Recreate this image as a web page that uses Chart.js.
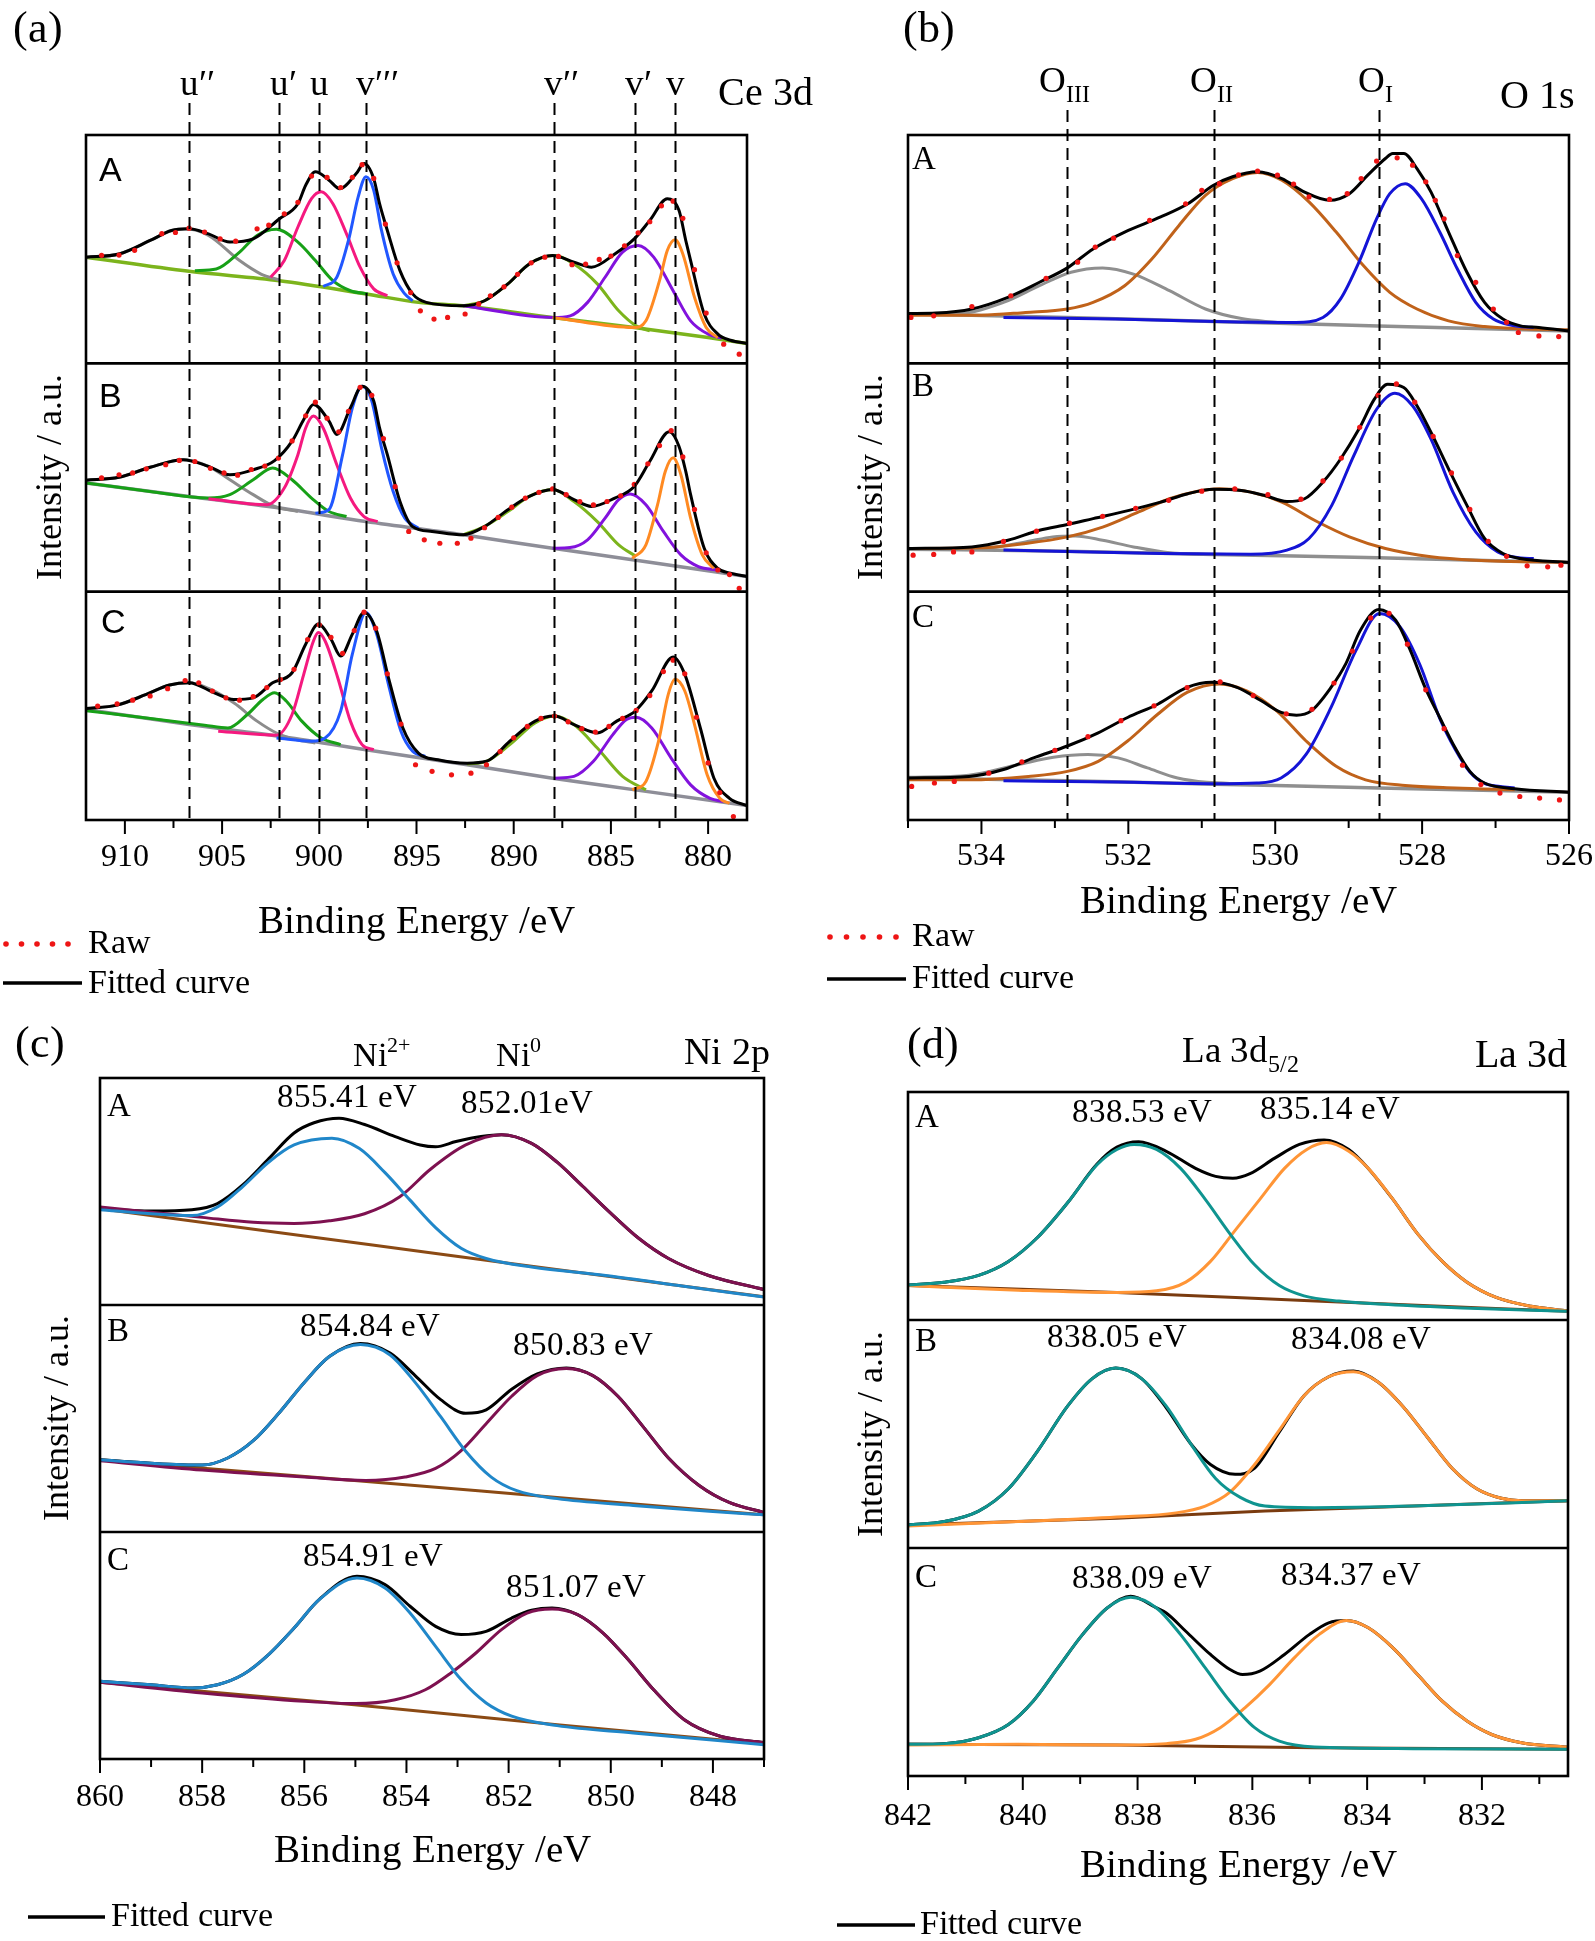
<!DOCTYPE html>
<html>
<head>
<meta charset="utf-8">
<script src="https://cdn.jsdelivr.net/npm/chart.js@4.4.1/dist/chart.umd.min.js"></script>
<style>
@font-face { font-family: "TimesLike"; src: local("Liberation Serif"), local("LiberationSerif"), local("Liberation Serif Regular"); }
@font-face { font-family: "ArialLike"; src: local("Liberation Sans"), local("LiberationSans"), local("Liberation Sans Regular"); }
html, body { margin: 0; padding: 0; background: #fff; }
body { width: 1595px; height: 1941px; position: relative; overflow: hidden; font-family: "TimesLike", "Liberation Serif", serif; }
canvas { position: absolute; }
.pre { position: absolute; left: -999px; top: 0; }
</style>
</head>
<body>
<span class="pre" style="font-family:TimesLike">Aa</span>
<span class="pre" style="font-family:ArialLike">Aa</span>
<canvas id="pa" width="820" height="1000" style="left:0px;top:0px"></canvas>
<canvas id="pb" width="775" height="1000" style="left:820px;top:0px"></canvas>
<canvas id="pc" width="820" height="941" style="left:0px;top:1000px"></canvas>
<canvas id="pd" width="775" height="941" style="left:820px;top:1000px"></canvas>
<script>
// ---------- tick labels / marker positions (eV) ----------
const ceTicks = [910, 905, 900, 895, 890, 885, 880];
const oTicks = [534, 532, 530, 528, 526];
const niTicks = [860, 858, 856, 854, 852, 850, 848];
const laTicks = [842, 840, 838, 836, 834, 832];

const ceLines = [906.7, 902.05, 900.0, 897.6, 887.95, 883.77, 881.7];
const ceLineLabels = ["u\u2032\u2032", "u\u2032", "u", "v\u2032\u2032\u2032", "v\u2032\u2032", "v\u2032", "v"];
const oLines = [532.83, 530.83, 528.59];
const oLineLabels = [["O", "III"], ["O", "II"], ["O", "I"]];

const niNotes = ["855.41 eV", "852.01eV", "854.84 eV", "850.83 eV", "854.91 eV", "851.07 eV"];
const laNotes = ["838.53 eV", "835.14 eV", "838.05 eV", "834.08 eV", "838.09 eV", "834.37 eV"];

// ---------- (a) Ce 3d : [binding energy, intensity in sub-panel %] ----------
const ceA_fit = [[912,46.5],[910.3,47.9],[908.7,53.8],[907.6,58.2],[906.7,58.9],[905.7,56.7],[904.6,53.1],[903.4,54.5],[902.05,63.3],[901.1,69.9],[900.7,78.0],[900.2,83.9],[899.5,80.2],[898.95,76.5],[898.1,83.1],[897.7,87.5],[897.2,80.9],[896.9,69.9],[896.5,58.2],[895.85,40.6],[895.2,30.4],[894.5,26.7],[892.6,25.2],[891.5,27.4],[890.3,34.8],[889.2,43.5],[888.0,47.2],[886.9,44.3],[886.0,42.1],[884.8,47.9],[883.8,54.5],[883.0,62.6],[882.1,72.1],[881.5,67.0],[881.15,53.8],[880.9,45.0],[880.2,21.6],[879.5,12.8],[878.85,10.1],[878,8.7]];
const ceA_raw = [[911.2,47.3],[910.3,47.4],[909.5,49.5],[908.1,56.8],[907.4,57.3],[906.7,59.2],[905.9,57.5],[905.1,54.5],[904.3,53.5],[903.2,58.9],[902.6,60.5],[901.8,65.5],[901.1,70.5],[900.4,82.0],[899.6,81.4],[898.9,77.0],[898.3,81.5],[897.8,87.0],[897.2,81.0],[896.6,61.0],[896.0,44.0],[895.3,31.0],[894.8,23.0],[894.1,19.4],[893.4,20.1],[892.5,21.6],[891.8,26.0],[891.2,29.6],[890.5,33.5],[889.8,39.0],[889.1,44.0],[888.4,46.5],[887.7,46.8],[887.0,43.2],[886.3,43.5],[885.6,45.5],[885.0,47.0],[884.3,51.5],[883.6,57.2],[883.0,62.0],[882.4,69.0],[881.8,71.0],[881.3,63.5],[880.7,41.0],[880.1,22.0],[879.2,8.4],[878.4,4.0]];
const ceA_base = [[912,46.5],[906.7,40.3],[902.05,36.2],[897.6,30.4],[894.9,26.7],[892.6,25.2],[888,20.1],[883.8,15.7],[880,11.3],[878,8.7]];
const ceA_u2 = [[912,46.5],[910.3,47.9],[908.7,53.8],[907.6,58.2],[906.9,58.9],[905.7,56.0],[904.1,45.0],[903.0,39.1],[902.05,36.5]];
const ceA_u1 = [[906.4,40.6],[905.3,41.3],[904.1,48.7],[903.2,56.0],[902.2,58.7],[901.1,53.1],[900.2,45.0],[899.3,36.2],[898.4,31.8],[897.5,30.4]];
const ceA_u = [[902.5,37.7],[901.8,45.0],[901.1,59.7],[900.4,72.1],[899.9,75.1],[899.3,69.9],[898.6,56.7],[897.9,42.1],[897.2,32.6],[896.5,29.6]];
const ceA_v3 = [[899.8,33.7],[899.1,37.7],[898.5,53.8],[898.0,72.9],[897.6,81.7],[897.2,75.8],[896.8,58.2],[896.2,39.1],[895.6,30.4],[895.2,27.4]];
const ceA_v2 = [[892.6,25.2],[891.5,27.4],[890.3,34.8],[889.2,43.5],[887.9,47.2],[886.9,43.5],[885.7,34.8],[884.6,23.0],[883.7,16.4],[883.0,14.2]];
const ceA_v1 = [[892.6,25.2],[888.0,20.1],[887.1,20.8],[886.2,26.7],[885.3,37.7],[884.4,48.7],[883.6,51.6],[882.8,46.5],[881.8,31.8],[880.9,18.6],[880.0,12.8],[879.3,11.0]];
const ceA_v = [[888.0,20.1],[883.8,15.7],[883.2,18.6],[882.5,36.2],[882.1,49.4],[881.7,54.1],[881.3,47.9],[880.7,28.9],[880.1,15.7],[879.5,11.3]];

const ceB_fit = [[912,48.8],[910.3,50.1],[908.7,54.5],[907.0,57.8],[905.7,54.9],[904.6,51.2],[903.4,53.4],[902.3,57.4],[901.4,65.9],[900.8,75.4],[900.3,82.0],[899.5,74.7],[899.1,68.8],[898.4,80.5],[897.8,90.0],[897.2,83.5],[896.9,71.7],[896.5,60.0],[895.85,39.5],[895.2,28.5],[894.2,26.4],[892.6,24.9],[891.5,28.5],[890.3,35.9],[889.2,41.7],[888.0,44.7],[886.9,40.3],[886.0,37.3],[884.8,41.0],[883.8,46.1],[883.0,57.1],[882.0,70.0],[881.5,63.7],[881.15,52.7],[880.9,42.5],[880.2,19.0],[879.5,10.2],[878.85,8.1],[878,6.6]];
const ceB_raw = [[911.2,49.8],[910.3,51.2],[909.6,52.0],[908.9,53.8],[907.9,55.6],[907.2,57.5],[906.4,57.0],[905.6,54.0],[904.9,52.0],[904.2,51.0],[903.5,53.5],[902.8,55.0],[902.1,58.5],[901.4,66.0],[900.7,77.0],[900.2,83.0],[899.6,76.0],[899.0,70.0],[898.5,79.0],[897.9,89.5],[897.3,86.0],[896.7,67.0],[896.1,46.0],[895.4,26.4],[894.6,22.7],[893.8,21.2],[892.9,21.2],[892.2,23.4],[891.5,28.0],[890.8,32.5],[890.1,37.0],[889.4,41.0],[888.7,43.5],[888.0,45.0],[887.3,42.5],[886.6,39.5],[885.9,38.0],[885.2,39.5],[884.5,42.0],[883.8,47.0],[883.1,56.0],[882.5,64.0],[881.9,70.5],[881.3,59.0],[880.7,36.0],[880.1,17.0],[879.5,9.5],[878.9,7.5],[878.4,1.5]];
const ceB_base = [[912,47.6],[906.7,41.7],[902.05,36.6],[897.6,30.7],[892.6,24.9],[888,19.0],[883.8,13.9],[878,6.6]];
const ceB_u2 = [[912,48.8],[910.3,50.1],[908.7,54.5],[907.0,57.8],[905.7,54.9],[904.6,49.0],[903.4,42.5],[902.3,37.3],[901.1,35.1]];
const ceB_u1 = [[912,47.6],[908.7,43.9],[905.7,41.0],[904.6,42.5],[903.4,49.0],[902.4,54.2],[901.4,49.0],[900.4,41.0],[899.5,35.1],[898.6,32.9]];
const ceB_u = [[905.7,40.7],[902.7,38.1],[901.8,45.4],[901.1,60.0],[900.7,71.7],[900.3,76.9],[899.8,71.7],[899.1,55.6],[898.4,41.0],[897.7,32.9],[897.0,30.7]];
const ceB_v3 = [[900.2,34.4],[899.5,36.0],[898.8,60.0],[898.3,80.5],[897.8,90.0],[897.3,83.5],[896.8,63.0],[896.2,43.9],[895.6,32.2],[894.9,27.8]];
const ceB_v2 = [[892.6,24.9],[891.5,28.6],[890.3,35.1],[889.2,41.7],[888.0,44.7],[886.9,39.5],[885.7,30.7],[884.6,20.5],[883.7,15.4]];
const ceB_v1 = [[888,19.0],[887.1,19.3],[886.2,22.7],[885.3,32.2],[884.6,40.3],[884.0,42.8],[883.2,38.1],[882.3,26.4],[881.4,16.1],[880.5,11.0],[879.5,9.5]];
const ceB_v = [[883.9,14.6],[883.2,20.5],[882.6,38.1],[882.2,52.7],[881.8,58.6],[881.4,51.2],[880.9,32.2],[880.3,16.1],[879.7,10.2]];

const ceC_fit = [[912,48.8],[910.4,50.3],[908.9,55.0],[907.7,59.1],[906.7,60.1],[905.4,55.7],[904.4,52.8],[903.4,53.5],[902.4,60.1],[901.4,64.5],[900.7,77.0],[900.05,85.8],[899.4,79.2],[898.9,71.8],[898.3,81.4],[897.7,90.9],[897.05,82.8],[896.4,60.9],[895.7,40.3],[894.9,29.3],[893.9,26.4],[892.4,24.9],[891.4,25.7],[890.2,34.5],[888.9,43.3],[887.9,45.5],[886.9,41.8],[885.7,38.1],[884.7,43.3],[883.75,47.7],[882.9,56.5],[881.8,71.4],[881.2,63.8],[880.4,40.3],[879.7,18.3],[878.9,9.5],[878,6.3]];
const ceC_raw = [[911.4,49.9],[910.4,50.9],[909.6,52.5],[908.7,54.3],[907.8,57.5],[906.9,61.1],[906.2,60.1],[905.5,56.5],[904.8,53.5],[904.1,52.5],[903.4,54.0],[902.7,58.0],[902.0,61.5],[901.3,66.0],[900.6,79.0],[900.0,85.5],[899.4,80.0],[898.8,73.0],[898.2,83.0],[897.7,91.0],[897.1,84.0],[896.5,64.0],[895.8,42.0],[895.05,24.2],[894.2,21.3],[893.2,19.8],[892.2,20.5],[891.4,24.2],[890.7,30.0],[890.0,36.0],[889.3,41.0],[888.6,44.5],[887.9,45.5],[887.2,43.0],[886.5,40.0],[885.8,38.5],[885.1,41.0],[884.4,44.5],[883.7,48.0],[883.0,54.5],[882.3,65.0],[881.8,70.0],[881.2,64.0],[880.6,45.0],[880.0,25.0],[879.4,12.0],[878.7,1.5]];
const ceC_base = [[912,48.4],[906.7,41.8],[902.05,36.7],[897.6,30.8],[892.4,24.2],[888,18.3],[883.75,13.2],[878,6.3]];
const ceC_u2 = [[912,48.8],[910.4,50.3],[908.9,55.0],[907.7,59.1],[906.7,60.1],[905.7,57.6],[904.4,51.3],[903.2,43.3],[902.2,38.1],[901.2,35.2],[900.2,33.7]];
const ceC_u1 = [[912,47.9],[908.9,44.7],[905.9,41.5],[904.7,40.3],[903.7,46.2],[902.9,52.8],[902.3,55.7],[901.7,52.1],[900.9,43.3],[899.9,35.9],[898.9,33.0]];
const ceC_u = [[905.2,38.9],[902.2,37.1],[901.4,46.2],[900.8,63.8],[900.3,78.4],[900.05,82.1],[899.7,78.4],[899.05,62.3],[898.4,43.3],[897.8,33.0],[897.2,30.8]];
const ceC_v3 = [[902.2,35.9],[900.4,34.5],[899.7,35.9],[898.9,47.7],[898.3,72.6],[897.6,90.9],[897.05,81.4],[896.4,57.9],[895.8,38.9],[895.2,30.1],[894.55,27.9]];
const ceC_v2 = [[892.4,24.5],[891.4,25.7],[890.2,33.0],[888.9,42.5],[887.9,45.5],[886.9,41.8],[885.7,31.5],[884.4,19.1],[883.2,13.2]];
const ceC_v1 = [[887.9,18.3],[886.9,19.1],[885.9,25.7],[884.9,37.4],[884.2,44.0],[883.7,45.0],[882.9,40.3],[881.9,27.1],[880.9,15.4],[879.9,9.5],[879.2,8.1]];
const ceC_v = [[883.9,13.2],[883.2,16.9],[882.55,34.5],[882.05,55.0],[881.7,61.6],[881.2,56.5],[880.7,41.8],[880.05,19.8],[879.4,9.5],[878.9,7.3]];

// ---------- (b) O 1s ----------
const oA_fit = [[535,21.8],[534.62,22.0],[534.13,23.8],[533.64,28.9],[533.21,35.5],[532.83,41.8],[532.48,50.1],[532.05,57.5],[531.56,64.1],[531.19,69.9],[530.84,78.0],[530.58,81.7],[530.24,83.9],[529.91,80.9],[529.6,75.0],[529.26,71.4],[528.99,74.3],[528.74,82.4],[528.5,89.7],[528.4,91.9],[528.25,91.9],[528.07,85.3],[527.88,75.1],[527.64,57.5],[527.39,39.9],[527.15,26.7],[526.9,19.4],[526.66,16.4],[526.41,15.7],[526,14.2]];
const oA_raw = [[534.96,20.1],[534.65,20.8],[534.13,24.9],[533.6,29.6],[533.12,37.2],[532.69,44.3],[532.45,50.9],[532.2,54.8],[531.71,62.6],[531.22,69.9],[531.0,75.8],[530.76,78.7],[530.5,82.5],[530.24,84.2],[529.97,82.4],[529.75,78.5],[529.54,72.9],[529.26,71.8],[529.02,74.3],[528.83,80.9],[528.62,88.6],[528.34,90.0],[528.13,86.8],[527.95,79.5],[527.82,71.4],[527.7,63.3],[527.52,47.2],[527.27,35.5],[527.03,23.8],[526.85,18.0],[526.69,13.5],[526.41,12.0],[526.14,11.7]];
const oA_base = [[535,21.6],[532.83,20.1],[530.84,18.3],[528.6,16.4],[526,14.2]];
const oA_o3 = [[535,21.6],[534.31,21.8],[533.7,26.7],[533.21,34.0],[532.78,39.9],[532.35,41.8],[531.93,39.1],[531.44,31.8],[530.95,23.8],[530.46,19.6],[529.97,17.9]];
const oA_o2 = [[535,21.1],[534.0,21.1],[533.4,22.3],[532.83,23.8],[532.48,26.7],[532.05,34.0],[531.68,45.7],[531.31,60.4],[530.95,73.6],[530.58,80.9],[530.24,83.6],[529.91,80.2],[529.54,70.7],[529.17,57.5],[528.8,42.8],[528.44,31.1],[528.07,23.8],[527.64,18.6],[527.15,16.1],[526.66,15.2],[526,14.7]];
const oA_o1 = [[533.7,20.1],[532.17,19.4],[530.82,18.3],[529.72,17.9],[529.35,20.1],[529.11,28.2],[528.86,44.3],[528.62,63.3],[528.44,74.3],[528.23,78.7],[528.01,72.1],[527.76,57.5],[527.52,41.3],[527.27,26.7],[527.03,19.4],[526.78,16.7],[526.48,15.7]];

const oB_fit = [[535,18.9],[534.13,19.6],[533.64,22.5],[533.21,26.9],[532.83,29.4],[532.48,32.0],[531.99,35.6],[531.56,39.2],[531.19,42.9],[530.84,44.8],[530.46,44.3],[530.15,42.2],[529.84,39.5],[529.6,40.7],[529.35,48.0],[529.11,58.1],[528.86,71.2],[528.65,84.3],[528.47,90.8],[528.25,89.4],[528.07,81.4],[527.88,69.8],[527.64,53.8],[527.39,37.8],[527.15,23.3],[526.9,16.7],[526.66,14.5],[526,12.8]];
const oB_raw = [[534.93,16.0],[534.65,16.3],[534.38,17.4],[534.13,17.4],[533.7,22.0],[533.25,26.5],[532.8,30.0],[532.35,33.0],[531.9,36.5],[531.45,40.0],[531.0,44.0],[530.55,45.0],[530.1,42.5],[529.65,40.5],[529.35,48.5],[529.1,58.5],[528.85,72.0],[528.6,86.0],[528.35,91.0],[528.1,83.0],[527.85,68.0],[527.6,52.0],[527.35,36.0],[527.1,22.0],[526.85,15.5],[526.57,11.3],[526.29,10.9],[526.11,11.6]];
const oB_base = [[535,18.6],[532.83,17.7],[530.84,16.3],[528.6,14.8],[526,12.8]];
const oB_o3 = [[535,18.6],[534.0,18.9],[533.4,21.8],[533.03,24.0],[532.72,24.4],[532.35,22.5],[531.93,19.6],[531.44,17.0],[530.95,16.3]];
const oB_o2 = [[535,18.9],[534.0,19.2],[533.4,21.1],[532.83,24.0],[532.35,28.3],[531.86,34.9],[531.44,40.7],[531.07,43.9],[530.76,45.1],[530.33,43.6],[529.91,39.2],[529.42,30.5],[528.99,24.0],[528.5,18.9],[527.88,15.3],[527.27,13.8],[526,12.8]];
const oB_o1 = [[533.7,18.2],[531.56,16.7],[530.33,16.4],[529.84,18.2],[529.54,23.3],[529.23,37.8],[528.93,59.6],[528.62,79.9],[528.37,86.9],[528.13,81.4],[527.88,66.9],[527.58,43.6],[527.27,26.2],[526.97,17.4],[526.66,14.8],[526.48,14.5]];

const oC_fit = [[535,18.4],[534.17,19.1],[533.7,22.1],[533.29,27.2],[532.83,32.4],[532.41,38.2],[532.01,44.9],[531.6,50.7],[531.2,58.1],[530.86,60.3],[530.52,58.1],[530.19,52.2],[529.92,47.1],[529.71,45.9],[529.51,47.8],[529.24,58.1],[529.04,68.4],[528.84,83.1],[528.59,92.2],[528.36,87.5],[528.16,74.3],[527.96,58.1],[527.76,44.9],[527.55,31.6],[527.35,21.3],[527.15,16.2],[526.74,13.7],[526,12.2]];
const oC_raw = [[534.95,14.7],[534.64,16.2],[534.37,16.9],[533.9,20.5],[533.45,25.5],[533.0,30.5],[532.55,36.5],[532.1,43.5],[531.65,50.0],[531.2,58.0],[530.75,60.5],[530.3,54.5],[529.85,46.5],[529.5,48.5],[529.2,60.0],[528.95,74.0],[528.7,88.5],[528.45,90.5],[528.2,77.0],[527.95,57.0],[527.7,40.0],[527.45,24.0],[527.2,15.5],[526.94,11.8],[526.67,10.3],[526.4,9.6],[526.13,8.8]];
const oC_base = [[535,18.4],[532.83,17.2],[530.83,15.7],[528.59,14.0],[526,12.2]];
const oC_o3 = [[535,18.7],[534.17,19.6],[533.49,24.3],[533.02,27.5],[532.55,28.7],[532.14,27.2],[531.74,22.8],[531.33,18.4],[530.93,16.5],[530.46,15.9]];
const oC_o2 = [[535,17.6],[534.17,17.6],[533.36,19.1],[532.83,21.3],[532.41,25.7],[532.01,34.6],[531.6,46.3],[531.2,55.9],[530.76,59.6],[530.39,56.6],[529.98,47.8],[529.58,34.6],[529.17,23.5],[528.77,17.6],[528.23,15.1],[527.55,14.0],[526.74,13.2]];
const oC_o1 = [[533.7,17.2],[532.14,16.6],[530.79,15.9],[530.25,16.2],[529.92,18.4],[529.58,28.7],[529.24,49.3],[528.9,74.3],[528.58,90.4],[528.3,84.6],[528.03,68.0],[527.76,44.5],[527.55,31.0],[527.35,21.0],[527.15,16.0],[526.94,14.7],[526.74,14.0]];

// ---------- (c) Ni 2p ----------
const niA_fit = [[860,42.4],[859.0,41.4],[858.2,42.0],[857.7,44.7],[857.2,53.0],[856.7,64.4],[856.2,75.8],[855.81,80.3],[855.32,82.3],[854.82,79.5],[854.22,74.2],[853.73,70.5],[853.43,69.7],[853.03,72.0],[852.54,74.2],[852.14,75.0],[851.55,71.2],[851.05,62.9],[850.55,52.3],[850.06,41.7],[849.46,29.5],[848.87,20.5],[848.07,12.9],[847,6.8]];
const niA_base = [[860,42.4],[856,30.4],[852,18.4],[847,3.6]];
const niA_ni2 = [[860,42.0],[859.0,40.2],[858.2,39.4],[857.7,43.2],[857.2,52.3],[856.7,62.9],[856.2,70.5],[855.46,73.5],[854.92,68.9],[854.42,58.3],[853.93,46.2],[853.43,34.1],[852.93,25.0],[852.44,20.5],[851.55,16.7],[850.06,12.9],[848.57,8.3],[847,3.5]];
const niA_ni0 = [[860,43.2],[859.0,40.9],[858.0,38.6],[857.0,36.4],[856.2,35.9],[855.51,37.1],[854.82,40.2],[854.13,47.7],[853.53,59.8],[852.84,70.5],[852.14,75.0],[851.55,71.2],[851.05,62.9],[850.55,52.3],[850.06,41.7],[849.46,29.5],[848.87,20.5],[848.07,12.9],[847,6.8]];

const niB_fit = [[860,31.8],[859.0,30.3],[858.0,29.5],[857.5,32.6],[857.0,40.2],[856.5,52.3],[856.0,65.9],[855.51,77.3],[854.9,83.0],[854.32,78.8],[853.83,68.9],[853.33,58.3],[852.84,52.3],[852.44,53.8],[851.94,62.9],[851.44,69.7],[850.87,72.3],[850.35,68.9],[849.86,59.8],[849.36,46.2],[848.87,32.6],[848.27,20.5],[847.67,12.9],[847,8.6]];
const niB_base = [[860,31.8],[855.02,22.7],[851.05,15.2],[847,7.6]];
const niB_ni2 = [[860,31.8],[859.0,30.3],[858.0,29.5],[857.5,32.6],[857.0,40.2],[856.5,52.3],[856.0,65.9],[855.51,77.3],[854.9,82.6],[854.32,78.0],[853.83,65.9],[853.33,50.8],[852.84,35.6],[852.34,24.2],[851.84,18.2],[851.05,14.7],[849.56,11.7],[848.07,9.1],[847,7.6]];
const niB_ni0 = [[860,31.4],[858.0,27.3],[856.0,24.2],[854.8,22.7],[854.03,24.2],[853.43,28.0],[852.94,35.6],[852.44,47.7],[851.94,59.8],[851.44,68.9],[850.87,72.0],[850.35,68.9],[849.86,59.8],[849.36,46.2],[848.87,32.6],[848.27,20.5],[847.67,12.9],[847,8.6]];

const niC_fit = [[860,34.2],[859.0,32.7],[858.19,31.3],[857.7,32.7],[857.2,37.2],[856.7,46.0],[856.2,57.7],[855.71,70.2],[854.97,80.5],[854.42,76.8],[853.93,67.3],[853.43,58.4],[852.93,54.8],[852.44,56.2],[851.94,62.1],[851.55,65.5],[851.15,66.5],[850.65,63.6],[850.15,55.5],[849.66,43.8],[849.16,30.5],[848.56,17.3],[847.86,10.0],[847,7.3]];
const niC_base = [[860,33.8],[855.02,23.9],[851.05,15.1],[847,6.6]];
const niC_ni2 = [[860,34.2],[859.0,32.7],[858.19,31.3],[857.7,32.7],[857.2,37.2],[856.7,46.0],[856.2,57.7],[855.71,70.2],[854.97,79.7],[854.42,75.3],[853.93,64.3],[853.43,49.6],[852.93,35.0],[852.44,24.7],[851.94,18.9],[851.05,14.7],[849.56,11.5],[848.07,8.5],[847,6.3]];
const niC_ni0 = [[860,33.8],[858.0,29.1],[856.0,25.4],[855.0,24.4],[854.22,26.1],[853.63,30.5],[853.13,37.9],[852.64,46.7],[852.14,57.0],[851.64,64.3],[851.15,66.1],[850.65,63.6],[850.15,55.5],[849.66,43.8],[849.16,30.5],[848.56,17.3],[847.86,10.0],[847,7.3]];

// ---------- (d) La 3d ----------
const laA_fit = [[842,15.4],[841.37,16.6],[840.77,19.6],[840.25,25.7],[839.74,36.3],[839.22,51.4],[838.71,68.3],[838.36,75.8],[837.98,78.2],[837.5,74.0],[836.99,66.5],[836.64,63.0],[836.34,62.2],[836.04,64.2],[835.61,71.0],[835.18,77.0],[834.75,79.0],[834.32,74.8],[833.98,66.5],[833.55,52.9],[833.12,37.8],[832.69,25.7],[832.26,16.6],[831.74,9.8],[831.14,6.0],[830.52,4.1]];
const laA_base = [[842,15.1],[838.36,12.1],[834.9,8.3],[830.52,3.8]];
const laA_p1 = [[842,15.4],[841.37,16.6],[840.77,19.6],[840.25,25.7],[839.74,36.3],[839.22,51.4],[838.71,68.0],[838.36,74.8],[838.06,77.0],[837.67,74.8],[837.25,66.5],[836.82,52.9],[836.39,37.8],[835.96,24.2],[835.53,15.1],[835.1,10.6],[834.49,8.3],[833.63,6.8],[832.34,5.3],[830.52,3.8]];
const laA_p2 = [[842,15.1],[840.08,13.1],[838.36,12.1],[837.67,12.8],[837.16,16.6],[836.73,25.7],[836.3,39.3],[835.87,52.9],[835.44,66.5],[835.05,74.8],[834.71,77.8],[834.32,74.0],[833.98,66.5],[833.55,52.9],[833.12,37.8],[832.69,25.7],[832.26,16.6],[831.74,9.8],[831.14,6.0],[830.52,4.1]];

const laB_fit = [[842,10.1],[841.37,11.6],[840.77,16.2],[840.25,26.0],[839.74,42.6],[839.22,62.2],[838.79,74.3],[838.38,78.9],[837.93,74.3],[837.5,61.5],[837.07,45.6],[836.73,36.6],[836.3,32.3],[835.96,35.0],[835.53,50.9],[835.1,66.8],[834.67,75.1],[834.24,77.6],[833.81,72.8],[833.38,62.2],[832.95,48.6],[832.52,35.0],[832.09,26.0],[831.66,21.8],[831.31,20.7],[830.52,20.7]];
const laB_base = [[842,10.1],[838.36,13.1],[835.78,16.2],[833.2,18.4],[830.52,20.7]];
const laB_p1 = [[842,10.1],[841.37,11.6],[840.77,16.2],[840.25,26.0],[839.74,42.6],[839.22,62.2],[838.79,74.3],[838.38,78.9],[837.93,74.3],[837.5,62.2],[837.07,45.6],[836.64,30.5],[836.21,22.2],[835.78,18.4],[834.92,17.7],[833.2,18.4],[830.52,20.7]];
const laB_p2 = [[842,9.7],[840.08,11.6],[838.36,13.6],[837.33,15.4],[836.82,18.4],[836.39,24.5],[835.96,36.6],[835.53,51.7],[835.1,66.8],[834.67,75.1],[834.24,77.3],[833.81,72.8],[833.38,62.2],[832.95,48.6],[832.52,35.0],[832.09,26.0],[831.66,21.8],[831.31,20.7],[830.52,20.7]];

const laC_fit = [[842,13.9],[841.37,14.2],[840.77,16.8],[840.25,22.6],[839.82,32.8],[839.39,47.4],[838.96,62.0],[838.53,73.7],[838.12,78.8],[837.67,73.7],[837.5,71.5],[837.16,63.5],[836.73,53.3],[836.39,46.7],[836.17,44.5],[835.87,46.0],[835.44,53.3],[835.01,62.0],[834.67,67.2],[834.36,68.2],[833.98,65.0],[833.55,56.2],[833.12,44.5],[832.69,32.8],[832.26,24.1],[831.83,18.2],[831.31,14.6],[830.52,12.7]];
const laC_base = [[842,13.9],[838.36,13.6],[834.92,12.4],[830.52,11.7]];
const laC_p1 = [[842,13.9],[841.37,14.2],[840.77,16.8],[840.25,22.6],[839.82,32.8],[839.39,47.4],[838.96,62.0],[838.53,73.7],[838.12,78.4],[837.67,73.7],[837.25,62.0],[836.82,47.4],[836.39,32.8],[835.96,21.2],[835.53,15.3],[834.92,12.7],[833.2,12.0],[830.52,11.7]];
const laC_p2 = [[842,13.6],[840.08,13.9],[838.36,13.6],[837.5,14.2],[836.99,16.1],[836.56,21.2],[836.13,29.9],[835.7,40.1],[835.27,51.8],[834.84,62.0],[834.36,68.2],[833.98,65.0],[833.55,56.2],[833.12,44.5],[832.69,32.8],[832.26,24.1],[831.83,18.2],[831.31,14.6],[830.52,12.7]];

// ---------- drawing ----------
const SERIF = '"TimesLike", "Liberation Serif", "Times New Roman", serif';
const SANS = '"ArialLike", "Liberation Sans", Arial, sans-serif';
const OFF_A = 200, OFF_B = 100, OFF_C = 0;

function pts(a, off) { return a.map(p => ({ x: p[0], y: p[1] + off })); }
function curve(a, color, off, order, width) {
    return { data: pts(a, off), borderColor: color, borderWidth: width || 3, pointRadius: 0,
             cubicInterpolationMode: "monotone", fill: false, order: order };
}
function dots(a, off) {
    return { data: pts(a, off), showLine: false, pointRadius: 2.6, pointBackgroundColor: "#ee1515",
             pointBorderColor: "#ee1515", pointBorderWidth: 0, order: 0 };
}

function drawRich(ctx, x, y, parts, size) {
    // parts: [text, kind] kind 0 normal, 1 subscript, -1 superscript
    const sz = parts.map(p => p[1] === 0 ? size : Math.round(size * 0.64));
    let w = 0;
    parts.forEach((p, i) => { ctx.font = sz[i] + "px " + SERIF; w += ctx.measureText(p[0]).width; });
    let cx = x - w / 2;
    ctx.textAlign = "left";
    ctx.textBaseline = "alphabetic";
    parts.forEach((p, i) => {
        ctx.font = sz[i] + "px " + SERIF;
        const dy = p[1] === 1 ? size * 0.26 : (p[1] === -1 ? -size * 0.42 : 0);
        ctx.fillText(p[0], cx, y + dy);
        cx += ctx.measureText(p[0]).width;
    });
}

const decorCfg = {};
const decor = {
    id: "decor",
    afterDraw(chart) {
        const d = decorCfg[chart.canvas.id];
        const ctx = chart.ctx, ca = chart.chartArea;
        const xs = chart.scales.x, ys = chart.scales.y;
        ctx.save();
        ctx.fillStyle = "#000";
        ctx.strokeStyle = "#000";

        // dashed reference lines
        if (d.lines) {
            ctx.setLineDash([12, 7]);
            ctx.lineWidth = 2;
            d.lines.forEach(e => {
                const px = Math.round(xs.getPixelForValue(e)) + 0.5;
                ctx.beginPath(); ctx.moveTo(px, d.lineTop); ctx.lineTo(px, ca.bottom); ctx.stroke();
            });
            ctx.setLineDash([]);
        }

        // frame and sub-panel dividers
        ctx.lineWidth = 2.6;
        ctx.strokeRect(ca.left, ca.top, ca.right - ca.left, ca.bottom - ca.top);
        [OFF_B, OFF_A].forEach(v => {
            const py = ys.getPixelForValue(v);
            ctx.beginPath(); ctx.moveTo(ca.left, py); ctx.lineTo(ca.right, py); ctx.stroke();
        });

        // ticks
        ctx.lineWidth = 2;
        ctx.font = "32px " + SERIF;
        ctx.textAlign = "center";
        ctx.textBaseline = "middle";
        const n0 = Math.ceil(d.min / d.step - 1e-9), n1 = Math.floor(d.max / d.step + 1e-9);
        for (let n = n0; n <= n1; n++) {
            const v = n * d.step;
            const major = d.majors.some(m => Math.abs(m - v) < 1e-6);
            const px = xs.getPixelForValue(v);
            ctx.beginPath(); ctx.moveTo(px, ca.bottom); ctx.lineTo(px, ca.bottom + (major ? 14 : 8)); ctx.stroke();
            if (major) ctx.fillText(String(v), px, d.tickY);
        }

        // labels over dashed lines
        if (d.lineLabels) {
            d.lineLabels.forEach((lab, i) => {
                const px = xs.getPixelForValue(d.lines[i]);
                if (typeof lab === "string") {
                    ctx.font = d.lineLabelSize + "px " + SERIF;
                    const w0 = ctx.measureText(lab[0]).width;
                    ctx.textAlign = "left"; ctx.textBaseline = "alphabetic";
                    ctx.fillText(lab, px - w0 / 2, d.lineLabelY);
                } else {
                    drawRich(ctx, px - 3, d.lineLabelY, [[lab[0], 0], [lab[1], 1]], d.lineLabelSize);
                }
            });
        }

        // texts
        d.texts.forEach(t => {
            if (t.parts) { drawRich(ctx, t.x, t.y, t.parts, t.size); return; }
            ctx.font = t.size + "px " + (t.sans ? SANS : SERIF);
            ctx.textAlign = t.align || "center";
            ctx.textBaseline = t.base || "middle";
            if (t.rot) {
                ctx.save(); ctx.translate(t.x, t.y); ctx.rotate(-Math.PI / 2);
                ctx.fillText(t.t, 0, 0); ctx.restore();
            } else {
                ctx.fillText(t.t, t.x, t.y);
            }
        });

        // legend samples
        if (d.rawKey) {
            ctx.fillStyle = "#ee1515";
            for (let i = 0; i < 5; i++) {
                ctx.beginPath();
                ctx.arc(d.rawKey[0] + i * (d.rawKey[1] - d.rawKey[0]) / 4, d.rawKey[2], 2.8, 0, Math.PI * 2);
                ctx.fill();
            }
        }
        if (d.fitKey) {
            ctx.strokeStyle = "#000"; ctx.lineWidth = 3.5;
            ctx.beginPath(); ctx.moveTo(d.fitKey[0], d.fitKey[2]); ctx.lineTo(d.fitKey[1], d.fitKey[2]); ctx.stroke();
        }
        ctx.restore();
    }
};

const charts = [];
function makeChart(id, datasets, pad, xmin, xmax) {
    const c = new Chart(document.getElementById(id).getContext("2d"), {
        type: "line",
        data: { datasets: datasets },
        options: {
            responsive: false,
            animation: false,
            devicePixelRatio: 1,
            events: [],
            layout: { padding: pad },
            plugins: { legend: { display: false }, tooltip: { enabled: false } },
            scales: {
                x: { type: "linear", display: false, min: xmin, max: xmax, reverse: true },
                y: { type: "linear", display: false, min: 0, max: 300 }
            }
        },
        plugins: [decor]
    });
    charts.push(c);
    return c;
}

// ---- (a) ----
const CE = { grey: "#8c8c8c", green: "#17a017", pink: "#f5197f", blue: "#2157ff",
             lime: "#7cb41c", purple: "#8212dd", orange: "#ff8a22", base2: "#8e8e98" };
function ceSets(raw, fit, base, u2, u1, u, v3, v2, v1, v, off, baseColor) {
    return [
        dots(raw, off),
        curve(fit, "#000", off, 1),
        curve(v, CE.orange, off, 2),
        curve(v1, CE.purple, off, 3),
        curve(v2, CE.lime, off, 4),
        curve(v3, CE.blue, off, 2),
        curve(u, CE.pink, off, 3),
        curve(u1, CE.green, off, 4),
        curve(u2, CE.grey, off, 5),
        curve(base, baseColor, off, 9, 3.5)
    ];
}
decorCfg.pa = {
    min: 878, max: 912, step: 2.5, majors: ceTicks, tickY: 858,
    lines: ceLines, lineTop: 103, lineLabels: ceLineLabels, lineLabelSize: 37, lineLabelY: 95,
    texts: [
        { t: "(a)", x: 38, y: 30, size: 44 },
        { t: "Ce 3d", x: 765, y: 105, size: 40, base: "alphabetic" },
        { t: "Intensity / a.u.", x: 52, y: 477, size: 36, rot: true },
        { t: "Binding Energy /eV", x: 416, y: 933, size: 39, base: "alphabetic" },
        { t: "A", x: 99, y: 172, size: 34, sans: true, align: "left" },
        { t: "B", x: 99, y: 398, size: 34, sans: true, align: "left" },
        { t: "C", x: 101, y: 624, size: 34, sans: true, align: "left" },
        { t: "Raw", x: 88, y: 944, size: 34, align: "left" },
        { t: "Fitted curve", x: 88, y: 984, size: 34, align: "left" }
    ],
    rawKey: [6, 68, 944], fitKey: [3, 82, 983]
};
makeChart("pa", [].concat(
    ceSets(ceA_raw, ceA_fit, ceA_base, ceA_u2, ceA_u1, ceA_u, ceA_v3, ceA_v2, ceA_v1, ceA_v, OFF_A, CE.lime),
    ceSets(ceB_raw, ceB_fit, ceB_base, ceB_u2, ceB_u1, ceB_u, ceB_v3, ceB_v2, ceB_v1, ceB_v, OFF_B, CE.base2),
    ceSets(ceC_raw, ceC_fit, ceC_base, ceC_u2, ceC_u1, ceC_u, ceC_v3, ceC_v2, ceC_v1, ceC_v, OFF_C, CE.base2)
), { left: 86, right: 73, top: 135, bottom: 180 }, 878, 912);

// ---- (b) ----
const OX = { grey: "#8f8f8f", brown: "#c0621a", blue: "#1414d6" };
function oSets(raw, fit, base, o3, o2, o1, off) {
    return [
        dots(raw, off),
        curve(fit, "#000", off, 1),
        curve(o1, OX.blue, off, 2),
        curve(o2, OX.brown, off, 3),
        curve(o3, OX.grey, off, 4),
        curve(base, OX.grey, off, 9, 3.5)
    ];
}
decorCfg.pb = {
    min: 526, max: 535, step: 1, majors: oTicks, tickY: 857,
    lines: oLines, lineTop: 110, lineLabels: oLineLabels, lineLabelSize: 37, lineLabelY: 92,
    texts: [
        { t: "(b)", x: 109, y: 30, size: 44 },
        { t: "O 1s", x: 717, y: 108, size: 40, base: "alphabetic" },
        { t: "Intensity / a.u.", x: 53, y: 477, size: 36, rot: true },
        { t: "Binding Energy /eV", x: 418, y: 913, size: 39, base: "alphabetic" },
        { t: "A", x: 92, y: 160, size: 33, align: "left" },
        { t: "B", x: 92, y: 387, size: 33, align: "left" },
        { t: "C", x: 92, y: 618, size: 33, align: "left" },
        { t: "Raw", x: 92, y: 937, size: 34, align: "left" },
        { t: "Fitted curve", x: 92, y: 979, size: 34, align: "left" }
    ],
    rawKey: [10, 76, 937], fitKey: [7, 86, 979]
};
makeChart("pb", [].concat(
    oSets(oA_raw, oA_fit, oA_base, oA_o3, oA_o2, oA_o1, OFF_A),
    oSets(oB_raw, oB_fit, oB_base, oB_o3, oB_o2, oB_o1, OFF_B),
    oSets(oC_raw, oC_fit, oC_base, oC_o3, oC_o2, oC_o1, OFF_C)
), { left: 88, right: 26, top: 135, bottom: 180 }, 526, 535);

// ---- (c) ----  (components are drawn over the fitted curve here)
const NI = { blue: "#2087c9", maroon: "#7e1150", brown: "#8b4a14" };
function niSets(fit, base, ni2, ni0, off) {
    return [
        curve(ni2, NI.blue, off, 1),
        curve(ni0, NI.maroon, off, 2),
        curve(fit, "#000", off, 5),
        curve(base, NI.brown, off, 9)
    ];
}
decorCfg.pc = {
    min: 847, max: 860, step: 1, majors: niTicks, tickY: 798,
    texts: [
        { t: "(c)", x: 40, y: 45, size: 44 },
        { parts: [["Ni", 0], ["2+", -1]], x: 381, y: 66, size: 34 },
        { parts: [["Ni", 0], ["0", -1]], x: 518, y: 66, size: 34 },
        { t: "Ni 2p", x: 727, y: 64, size: 38, base: "alphabetic" },
        { t: niNotes[0], x: 347, y: 98, size: 33 },
        { t: niNotes[1], x: 527, y: 104, size: 33 },
        { t: niNotes[2], x: 370, y: 327, size: 33 },
        { t: niNotes[3], x: 583, y: 346, size: 33 },
        { t: niNotes[4], x: 373, y: 557, size: 33 },
        { t: niNotes[5], x: 576, y: 588, size: 33 },
        { t: "A", x: 107, y: 107, size: 33, align: "left" },
        { t: "B", x: 107, y: 332, size: 33, align: "left" },
        { t: "C", x: 107, y: 561, size: 33, align: "left" },
        { t: "Intensity / a.u.", x: 59, y: 418, size: 36, rot: true },
        { t: "Binding Energy /eV", x: 432, y: 862, size: 39, base: "alphabetic" },
        { t: "Fitted curve", x: 111, y: 917, size: 34, align: "left" }
    ],
    fitKey: [28, 105, 917]
};
makeChart("pc", [].concat(
    niSets(niA_fit, niA_base, niA_ni2, niA_ni0, OFF_A),
    niSets(niB_fit, niB_base, niB_ni2, niB_ni0, OFF_B),
    niSets(niC_fit, niC_base, niC_ni2, niC_ni0, OFF_C)
), { left: 100, right: 56, top: 78, bottom: 182 }, 847, 860);

// ---- (d) ----  (components are drawn over the fitted curve here)
const LA = { teal: "#0f9490", orange: "#ff9536", brown: "#7a3b0f" };
function laSets(fit, base, p1, p2, off) {
    return [
        curve(p1, LA.teal, off, 1),
        curve(p2, LA.orange, off, 2),
        curve(fit, "#000", off, 5),
        curve(base, LA.brown, off, 9)
    ];
}
decorCfg.pd = {
    min: 830.5, max: 842, step: 1, majors: laTicks, tickY: 817,
    texts: [
        { t: "(d)", x: 113, y: 46, size: 44 },
        { parts: [["La 3d", 0], ["5/2", 1]], x: 420, y: 62, size: 37 },
        { t: "La 3d", x: 701, y: 67, size: 40, base: "alphabetic" },
        { t: laNotes[0], x: 322, y: 113, size: 33 },
        { t: laNotes[1], x: 510, y: 110, size: 33 },
        { t: laNotes[2], x: 297, y: 338, size: 33 },
        { t: laNotes[3], x: 541, y: 340, size: 33 },
        { t: laNotes[4], x: 322, y: 579, size: 33 },
        { t: laNotes[5], x: 531, y: 576, size: 33 },
        { t: "A", x: 95, y: 118, size: 33, align: "left" },
        { t: "B", x: 95, y: 342, size: 33, align: "left" },
        { t: "C", x: 95, y: 578, size: 33, align: "left" },
        { t: "Intensity / a.u.", x: 53, y: 434, size: 36, rot: true },
        { t: "Binding Energy /eV", x: 418, y: 877, size: 39, base: "alphabetic" },
        { t: "Fitted curve", x: 100, y: 925, size: 34, align: "left" }
    ],
    fitKey: [17, 95, 925]
};
makeChart("pd", [].concat(
    laSets(laA_fit, laA_base, laA_p1, laA_p2, OFF_A),
    laSets(laB_fit, laB_base, laB_p1, laB_p2, OFF_B),
    laSets(laC_fit, laC_base, laC_p1, laC_p2, OFF_C)
), { left: 88, right: 27, top: 92, bottom: 165 }, 830.5, 842);

// redraw once the aliased local fonts are ready
Promise.all([document.fonts.load('32px "TimesLike"'), document.fonts.load('32px "ArialLike"')])
    .catch(() => null)
    .then(() => charts.forEach(c => c.render()));
</script>
</body>
</html>
